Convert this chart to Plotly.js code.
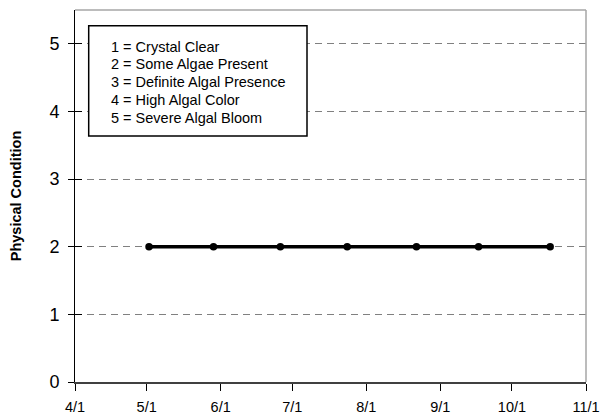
<!DOCTYPE html>
<html>
<head>
<meta charset="utf-8">
<script src="https://cdn.plot.ly/plotly-3.0.1.min.js"></script>
<style>html,body{margin:0;padding:0;background:#fff;}#chart{width:602px;height:418px;}</style>
</head>
<body>
<div id="chart"></div>
<script>
const sampleDates = ['2007-05-02','2007-05-29','2007-06-26','2007-07-24','2007-08-22','2007-09-17','2007-10-17'];
const conditionValues = [2, 2, 2, 2, 2, 2, 2];
const xTickVals = ['2007-04-01','2007-05-01','2007-06-01','2007-07-01','2007-08-01','2007-09-01','2007-10-01','2007-11-01'];
const xTickText = ['4/1','5/1','6/1','7/1','8/1','9/1','10/1','11/1'];
const yTickVals = [0, 1, 2, 3, 4, 5];
const legendLines = ['1 = Crystal Clear','2 = Some Algae Present','3 = Definite Algal Presence','4 = High Algal Color','5 = Severe Algal Bloom'];
const yTitle = 'Physical Condition';

const FONT = 'Liberation Sans, Arial, sans-serif';
const L = 75, T = 10, PW = 511, PH = 372;
const px = x => (x - L) / PW;
const py = y => 1 - (y - T) / PH;

const trace = {
  x: sampleDates, y: conditionValues, type: 'scatter', mode: 'lines+markers',
  line: {color: '#000', width: 3.5},
  marker: {color: '#000', size: 7.5},
  showlegend: false, hoverinfo: 'none'
};

const annotations = legendLines.map((t, i) => ({
  xref: 'paper', yref: 'paper', x: px(109), y: py(46.7 + i * 17.7),
  xanchor: 'left', yanchor: 'middle', align: 'left', showarrow: false,
  text: t, font: {size: 14.5, color: '#000', family: FONT}
}));

const layout = {
  width: 602, height: 418,
  margin: {l: L, r: 602 - L - PW, t: T, b: 418 - T - PH, pad: 0},
  paper_bgcolor: '#fff', plot_bgcolor: '#fff',
  font: {family: FONT, color: '#000'},
  showlegend: false,
  xaxis: {
    type: 'date', range: ['2007-04-01', '2007-11-01'],
    tickmode: 'array', tickvals: xTickVals, ticktext: xTickText,
    ticks: 'outside', ticklen: 7, tickwidth: 1, tickcolor: '#000',
    tickfont: {size: 14.5, color: '#000'}, ticklabelstandoff: 4,
    showline: true, linecolor: '#404040', linewidth: 1.5,
    showgrid: false, zeroline: false, fixedrange: true
  },
  yaxis: {
    range: [0, 5.5], tickmode: 'array', tickvals: yTickVals,
    ticks: 'outside', ticklen: 6, tickwidth: 1, tickcolor: '#000',
    tickfont: {size: 18, color: '#000'}, ticklabelstandoff: 5,
    showline: true, linecolor: '#000', linewidth: 1,
    showgrid: true, gridcolor: '#808080', gridwidth: 1, griddash: '7px,5px',
    zeroline: false, fixedrange: true,
    title: {text: yTitle, font: {size: 14.5, color: '#000', family: FONT, weight: 'bold'}, standoff: 24}
  },
  yaxis2: {
    overlaying: 'y', side: 'left', range: [0, 5.5], tickmode: 'array', tickvals: yTickVals,
    ticks: 'inside', ticklen: 7, tickwidth: 1, tickcolor: '#000',
    showticklabels: false, showgrid: false, zeroline: false, showline: false, fixedrange: true
  },
  shapes: [
    {type: 'line', xref: 'paper', yref: 'paper', x0: 0, x1: 1, y0: 1, y1: 1, line: {color: '#a6a6a6', width: 1.5}},
    {type: 'line', xref: 'paper', yref: 'paper', x0: 1, x1: 1, y0: 0, y1: 1, line: {color: '#a6a6a6', width: 1.5}},
    {type: 'rect', xref: 'paper', yref: 'paper', x0: px(88.7), x1: px(307), y0: py(136), y1: py(25.7),
     line: {color: '#000', width: 1.5}, fillcolor: '#fff', layer: 'above'}
  ],
  annotations: annotations
};

const trace2 = {x: [], y: [], yaxis: 'y2', showlegend: false};
Plotly.newPlot('chart', [trace, trace2], layout, {staticPlot: true, displayModeBar: false});
</script>
</body>
</html>
